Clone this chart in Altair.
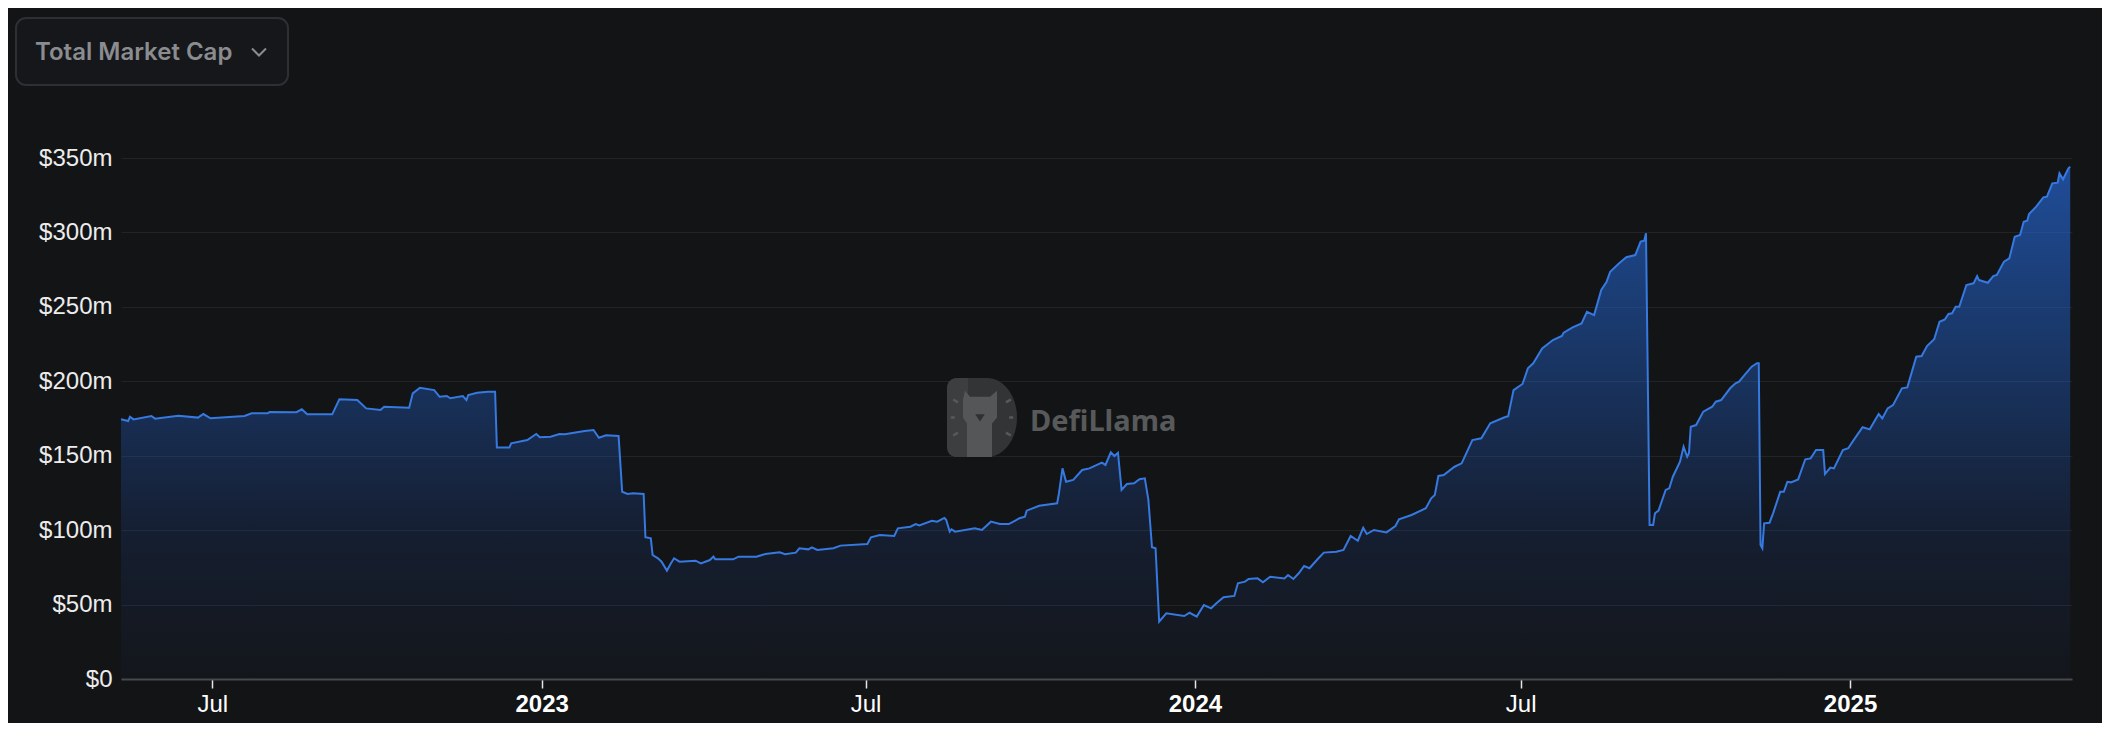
import altair as alt
import pandas as pd

# ---- data (values in $ millions) ----
dates = [
    "2022-05-11", "2022-05-15", "2022-05-16", "2022-05-18", "2022-05-28", "2022-05-30",
    "2022-06-12", "2022-06-23", "2022-06-26", "2022-06-30", "2022-07-19", "2022-07-23",
    "2022-08-01", "2022-08-02", "2022-08-17", "2022-08-20", "2022-08-23", "2022-09-06",
    "2022-09-10", "2022-09-20", "2022-09-25", "2022-10-03", "2022-10-05", "2022-10-19",
    "2022-10-21", "2022-10-25", "2022-11-02", "2022-11-05", "2022-11-09", "2022-11-11",
    "2022-11-18", "2022-11-20", "2022-11-21", "2022-11-26", "2022-12-02", "2022-12-06",
    "2022-12-07", "2022-12-14", "2022-12-15", "2022-12-24", "2022-12-29", "2022-12-31",
    "2023-01-06", "2023-01-11", "2023-01-14", "2023-01-25", "2023-01-30", "2023-02-02",
    "2023-02-06", "2023-02-13", "2023-02-15", "2023-02-18", "2023-02-21", "2023-02-27",
    "2023-02-28", "2023-03-03", "2023-03-04", "2023-03-07", "2023-03-09", "2023-03-12",
    "2023-03-14", "2023-03-16", "2023-03-19", "2023-03-28", "2023-03-31", "2023-04-05",
    "2023-04-07", "2023-04-08", "2023-04-18", "2023-04-21", "2023-05-01", "2023-05-06",
    "2023-05-14", "2023-05-17", "2023-05-23", "2023-05-25", "2023-05-30", "2023-06-01",
    "2023-06-04", "2023-06-13", "2023-06-17", "2023-07-02", "2023-07-04", "2023-07-09",
    "2023-07-17", "2023-07-19", "2023-07-26", "2023-07-29", "2023-07-31", "2023-08-07",
    "2023-08-10", "2023-08-14", "2023-08-15", "2023-08-17", "2023-08-18", "2023-08-20",
    "2023-08-31", "2023-09-04", "2023-09-09", "2023-09-14", "2023-09-19", "2023-09-25",
    "2023-09-28", "2023-09-29", "2023-10-06", "2023-10-16", "2023-10-17", "2023-10-19",
    "2023-10-21", "2023-10-25", "2023-10-30", "2023-11-03", "2023-11-10", "2023-11-12",
    "2023-11-15", "2023-11-17", "2023-11-19", "2023-11-21", "2023-11-24", "2023-11-28",
    "2023-12-01", "2023-12-04", "2023-12-06", "2023-12-08", "2023-12-10", "2023-12-12",
    "2023-12-16", "2023-12-26", "2023-12-29", "2024-01-02", "2024-01-06", "2024-01-10",
    "2024-01-13", "2024-01-17", "2024-01-23", "2024-01-25", "2024-01-29", "2024-01-31",
    "2024-02-05", "2024-02-08", "2024-02-12", "2024-02-20", "2024-02-22", "2024-02-25",
    "2024-02-28", "2024-03-02", "2024-03-05", "2024-03-10", "2024-03-13", "2024-03-20",
    "2024-03-24", "2024-03-28", "2024-04-01", "2024-04-04", "2024-04-06", "2024-04-10",
    "2024-04-17", "2024-04-22", "2024-04-24", "2024-05-01", "2024-05-09", "2024-05-12",
    "2024-05-14", "2024-05-16", "2024-05-19", "2024-05-25", "2024-05-29", "2024-06-04",
    "2024-06-09", "2024-06-14", "2024-06-22", "2024-06-24", "2024-06-27", "2024-07-02",
    "2024-07-05", "2024-07-08", "2024-07-13", "2024-07-19", "2024-07-24", "2024-07-25",
    "2024-07-30", "2024-08-04", "2024-08-07", "2024-08-11", "2024-08-15", "2024-08-18",
    "2024-08-20", "2024-08-25", "2024-08-29", "2024-09-03", "2024-09-06", "2024-09-08",
    "2024-09-09", "2024-09-11", "2024-09-13", "2024-09-14", "2024-09-16", "2024-09-20",
    "2024-09-22", "2024-09-24", "2024-09-28", "2024-09-30", "2024-10-02", "2024-10-03",
    "2024-10-04", "2024-10-07", "2024-10-11", "2024-10-16", "2024-10-18", "2024-10-21",
    "2024-10-26", "2024-10-29", "2024-10-31", "2024-11-03", "2024-11-07", "2024-11-10",
    "2024-11-11", "2024-11-12", "2024-11-13", "2024-11-14", "2024-11-17", "2024-11-19",
    "2024-11-23", "2024-11-25", "2024-11-27", "2024-11-29", "2024-12-03", "2024-12-07",
    "2024-12-10", "2024-12-13", "2024-12-17", "2024-12-18", "2024-12-21", "2024-12-23",
    "2024-12-28", "2024-12-31", "2025-01-03", "2025-01-08", "2025-01-12", "2025-01-17",
    "2025-01-19", "2025-01-22", "2025-01-25", "2025-01-30", "2025-02-02", "2025-02-07",
    "2025-02-10", "2025-02-13", "2025-02-17", "2025-02-20", "2025-02-23", "2025-02-25",
    "2025-02-27", "2025-03-01", "2025-03-03", "2025-03-07", "2025-03-11", "2025-03-13",
    "2025-03-14", "2025-03-19", "2025-03-22", "2025-03-24", "2025-03-28", "2025-03-31",
    "2025-04-03", "2025-04-06", "2025-04-08", "2025-04-10", "2025-04-11", "2025-04-15",
    "2025-04-19", "2025-04-21", "2025-04-24", "2025-04-27", "2025-04-28", "2025-04-30",
    "2025-05-03", "2025-05-04",
]

market_cap_m = [
    174.5, 173.3, 176.2, 174.4, 176.7, 174.9,
    176.9, 175.6, 178.0, 175.1, 176.7, 178.5,
    178.5, 179.4, 179.2, 181.2, 177.8, 177.8,
    187.9, 187.4, 181.8, 180.7, 182.9, 182.3,
    191.9, 195.7, 194.1, 189.6, 190.1, 188.6,
    190.1, 187.4, 190.8, 192.3, 193.0, 193.0,
    155.6, 155.6, 158.3, 160.5, 164.6, 162.4,
    162.8, 164.6, 164.4, 166.6, 167.3, 162.1,
    163.7, 163.2, 125.8, 124.3, 124.7, 124.3,
    95.2, 94.5, 83.3, 81.1, 78.8, 72.8,
    77.3, 81.1, 78.8, 79.5, 77.7, 79.9,
    82.2, 80.4, 80.4, 82.2, 82.2, 84.0,
    85.1, 83.8, 84.9, 87.8, 87.1, 88.5,
    86.7, 87.8, 89.6, 90.7, 95.2, 96.7,
    96.1, 101.2, 102.3, 104.1, 103.2, 106.3,
    105.7, 108.2, 107.0, 99.0, 100.6, 99.0,
    101.2, 100.1, 105.7, 104.1, 104.1, 108.0,
    109.0, 113.1, 116.4, 118.0, 124.7, 141.5,
    132.5, 133.7, 140.4, 141.5, 145.3, 143.8,
    152.3, 149.8, 152.0, 127.0, 131.0, 131.5,
    134.2, 134.8, 120.2, 88.5, 87.8, 38.5,
    44.1, 42.3, 44.5, 41.9, 49.7, 47.5,
    50.9, 54.9, 55.8, 64.3, 65.4, 67.2,
    67.6, 65.0, 68.7, 67.6, 69.9, 67.2,
    71.0, 75.9, 74.4, 81.1, 84.9, 85.5,
    86.7, 96.1, 92.9, 101.6, 97.4, 100.1,
    98.5, 102.8, 107.3, 110.2, 114.7, 121.4,
    123.6, 136.4, 137.0, 142.6, 144.9, 160.5,
    161.7, 171.8, 175.8, 176.5, 194.1, 198.2,
    208.7, 212.1, 222.1, 227.7, 230.4, 232.6,
    236.2, 238.9, 246.7, 244.5, 261.3, 266.9,
    273.6, 279.3, 283.3, 284.8, 293.8, 294.5,
    299.4, 103.5, 103.5, 111.3, 113.1, 127.0,
    128.1, 135.9, 146.0, 156.0, 149.3, 151.6,
    169.5, 170.6, 179.6, 182.9, 186.3, 187.4,
    195.3, 198.6, 199.7, 204.2, 209.8, 212.1,
    212.1, 90.0, 87.8, 104.6, 105.0, 111.3,
    125.8, 125.8, 132.5, 132.1, 134.1, 147.6,
    148.2, 153.8, 153.8, 137.7, 142.0, 141.5,
    153.8, 155.0, 160.5, 169.1, 167.7, 178.0,
    175.1, 181.8, 184.0, 195.3, 195.9, 216.5,
    217.0, 223.7, 228.2, 240.0, 241.6, 245.2,
    245.7, 250.1, 250.1, 264.7, 265.8, 270.7,
    268.0, 266.2, 270.7, 271.4, 280.3, 282.6,
    297.1, 298.3, 307.2, 307.9, 312.4, 317.3,
    323.6, 324.0, 333.0, 333.4, 339.7, 335.7,
    343.1, 344.2,
]

y_ticks = [0, 50, 100, 150, 200, 250, 300, 350]
x_ticks = [(2022, 7), (2023, 1), (2023, 7), (2024, 1), (2024, 7), (2025, 1)]
domain_start = (2022, 5, 11)
domain_end = (2025, 5, 5)

selector_label = "Total Market Cap"
watermark_label = "DefiLlama"

# ---- styling ----
BG = "#131416"
LINE = "#3679e0"
AXIS_FONT = "Liberation Sans"

df = pd.DataFrame({"date": dates, "mcap": market_cap_m})

x_enc = alt.X(
    "date:T",
    scale=alt.Scale(
        type="utc",
        domain=[
            alt.DateTime(year=domain_start[0], month=domain_start[1], date=domain_start[2], utc=True),
            alt.DateTime(year=domain_end[0], month=domain_end[1], date=domain_end[2], utc=True),
        ],
    ),
    axis=alt.Axis(
        title=None,
        values=[alt.DateTime(year=y, month=m, date=1, utc=True) for y, m in x_ticks],
        labelExpr="utcmonth(datum.value) == 0 ? utcFormat(datum.value, '%Y') : 'Jul'",
        labelFontWeight=alt.condition("utcmonth(datum.value) == 0", alt.value(700), alt.value(400)),
        labelFont=AXIS_FONT,
        labelFontSize=24,
        labelColor="#ffffff",
        labelPadding=4,
        grid=False,
        domainColor="#48494d",
        domainWidth=2,
        tickColor="#e6e6e6",
        tickWidth=1.5,
        tickSize=9,
    ),
)

y_enc = alt.Y(
    "mcap:Q",
    scale=alt.Scale(domain=[0, 350], nice=False),
    axis=alt.Axis(
        title=None,
        values=y_ticks,
        labelExpr="datum.value == 0 ? '$0' : '$' + datum.value + 'm'",
        labelFont=AXIS_FONT,
        labelFontSize=24,
        labelColor="#ececec",
        labelPadding=9,
        ticks=False,
        domain=False,
        grid=True,
        gridColor="#222327",
        gridWidth=1,
    ),
)

gradient = alt.Gradient(
    gradient="linear",
    x1=0, x2=0, y1=0, y2=1,
    stops=[
        alt.GradientStop(color="rgba(38,104,214,0.68)", offset=0),
        alt.GradientStop(color="rgba(33,100,210,0.38)", offset=0.42),
        alt.GradientStop(color="rgba(33,90,200,0.15)", offset=0.72),
        alt.GradientStop(color="rgba(33,80,180,0.03)", offset=1),
    ],
)

base = alt.Chart(df)
area = base.mark_area(color=gradient, interpolate="linear").encode(x=x_enc, y=y_enc)
line = base.mark_line(color=LINE, strokeWidth=2, interpolate="linear").encode(x="date:T", y="mcap:Q")

one = pd.DataFrame({"k": [0]})

# watermark (logo + word)
D_PATH = ("M -0.875 -0.7 Q -0.875 -0.99 -0.6 -0.99 L 0.125 -0.99 "
          "A 0.75 0.99 0 0 1 0.125 0.99 L -0.6 0.99 Q -0.875 0.99 -0.875 0.7 Z")
D_LEFT = ("M -0.875 -0.7 Q -0.875 -0.99 -0.6 -0.99 L -0.35 -0.99 L -0.35 0.99 "
          "L -0.6 0.99 Q -0.875 0.99 -0.875 0.7 Z")
LLAMA = ("M -0.375 0.99 L -0.375 0.15 L -0.475 0.0 L -0.475 -0.45 L -0.425 -0.67 "
         "L -0.3 -0.52 L 0.2 -0.52 L 0.375 -0.67 L 0.375 -0.45 L 0.375 0.0 "
         "L 0.25 0.15 L 0.25 0.99 Z")
MUZZLE = "M -0.17 -0.08 L 0.07 -0.08 L -0.05 0.1 Z"
RAYS = ("M -0.72 -0.45 L -0.6 -0.38 M -0.78 0.0 L -0.68 0.0 M -0.72 0.45 L -0.6 0.38 "
        "M 0.72 -0.45 L 0.6 -0.38 M 0.78 0.0 L 0.68 0.0 M 0.72 0.45 L 0.6 0.38")

wm_x, wm_y = 861, 259.5
wm_d = alt.Chart(one).mark_point(shape=D_PATH, filled=True, fill="#333436", size=6400, opacity=1, strokeWidth=0).encode(x=alt.value(wm_x), y=alt.value(wm_y))
wm_left = alt.Chart(one).mark_point(shape=D_LEFT, filled=True, fill="#3d3e40", size=6400, opacity=1, strokeWidth=0).encode(x=alt.value(wm_x), y=alt.value(wm_y))
wm_llama = alt.Chart(one).mark_point(shape=LLAMA, filled=True, fill="#555658", size=6400, opacity=1, strokeWidth=0).encode(x=alt.value(wm_x), y=alt.value(wm_y))
wm_muzzle = alt.Chart(one).mark_point(shape=MUZZLE, filled=True, fill="#2f3032", size=6400, opacity=1, strokeWidth=0).encode(x=alt.value(wm_x), y=alt.value(wm_y))
wm_rays = alt.Chart(one).mark_point(shape=RAYS, filled=False, stroke="#58595b", strokeWidth=2.5, size=6400, opacity=1).encode(x=alt.value(wm_x), y=alt.value(wm_y))
wm_text = alt.Chart(one).mark_text(
    text=watermark_label, font="Noto Sans", fontWeight="bold", fontSize=29,
    color="#58595b", align="left", baseline="alphabetic",
).encode(x=alt.value(909), y=alt.value(273))

# selector box at the top-left
box = alt.Chart(one).mark_rect(
    fill="#16171a", stroke="#2e2f33", strokeWidth=2, cornerRadius=10,
).encode(x=alt.value(-105), x2=alt.value(167), y=alt.value(-140), y2=alt.value(-73))
box_text = alt.Chart(one).mark_text(
    text=selector_label, font="Inter", fontWeight=600, fontSize=24,
    color="#8b8c90", align="left", baseline="alphabetic",
).encode(x=alt.value(-86), y=alt.value(-98))
chevron = alt.Chart(one).mark_point(
    shape="M -1 -0.5 L 0 0.5 L 1 -0.5", filled=False, stroke="#8b8c90",
    strokeWidth=2, size=196, opacity=1,
).encode(x=alt.value(138), y=alt.value(-106))

chart = alt.layer(
    area, wm_d, wm_left, wm_llama, wm_muzzle, wm_rays, wm_text, line, box, box_text, chevron
).properties(
    width=1951,
    height=521,
    padding={"left": 113, "top": 150, "right": 30, "bottom": 44},
    autosize=alt.AutoSizeParams(type="none"),
    background=BG,
).configure_view(strokeWidth=0)

chart.save("out.html", embed_options={"renderer": "svg", "actions": False})
